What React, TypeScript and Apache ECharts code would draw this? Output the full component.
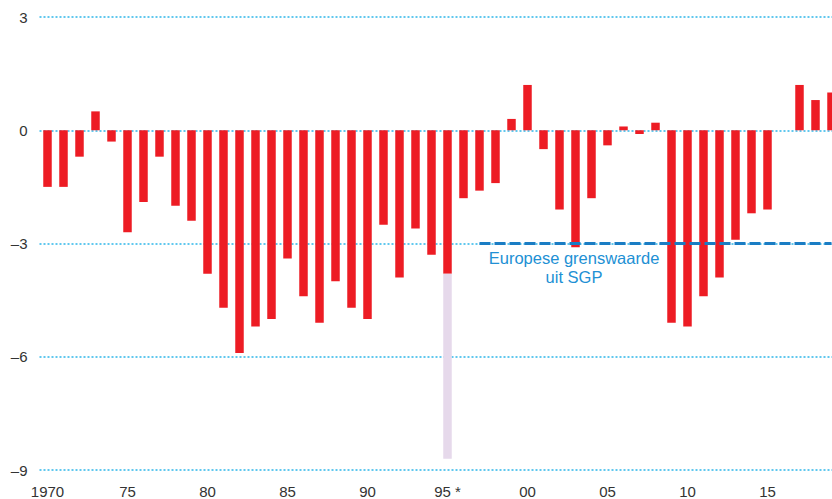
import React, { useEffect, useRef } from "react";
import * as echarts from "echarts";

const years = [
  "1970", "1971", "1972", "1973", "1974", "1975", "1976", "1977", "1978", "1979",
  "1980", "1981", "1982", "1983", "1984", "1985", "1986", "1987", "1988", "1989",
  "1990", "1991", "1992", "1993", "1994", "1995", "1996", "1997", "1998", "1999",
  "2000", "2001", "2002", "2003", "2004", "2005", "2006", "2007", "2008", "2009",
  "2010", "2011", "2012", "2013", "2014", "2015", "2016", "2017", "2018", "2019",
];

// Begrotingssaldo (% bbp)
const saldo = [
  -1.5, -1.5, -0.7, 0.5, -0.3, -2.7, -1.9, -0.7, -2.0, -2.4,
  -3.8, -4.7, -5.9, -5.2, -5.0, -3.4, -4.4, -5.1, -4.0, -4.7,
  -5.0, -2.5, -3.9, -2.6, -3.3, -3.8, -1.8, -1.6, -1.4, 0.3,
  1.2, -0.5, -2.1, -3.1, -1.8, -0.4, 0.1, -0.1, 0.2, -5.1,
  -5.2, -4.4, -3.9, -2.9, -2.2, -2.1, 0, 1.2, 0.8, 1.0,
];

// Extra (incidenteel) tekort in 1995
const extra: (number | null)[] = years.map((y) => (y === "1995" ? -4.9 : null));

const tickLabels: Record<string, string> = {
  "1970": "1970", "1975": "75", "1980": "80", "1985": "85", "1990": "90",
  "1995": "95 *", "2000": "00", "2005": "05", "2010": "10", "2015": "15",
};

const yLabels: Record<string, string> = {
  "3": "3", "0": "0", "-3": "\u20133", "-6": "\u20136", "-9": "\u20139",
};

const limitStart = "1997";
const limitEnd = "2019";
const limitValue = -3;

export default function App() {
  const ref = useRef<HTMLDivElement>(null);
  useEffect(() => {
    if (!ref.current) return;
    const chart = echarts.init(ref.current, undefined, { renderer: "svg" });
    const font = "'Liberation Sans', Arial, sans-serif";
    chart.setOption({
      animation: false,
      textStyle: { fontFamily: font },
      grid: { left: 39.5, right: 10.5, top: 17, height: 453 },
      xAxis: {
        type: "category",
        data: years,
        axisLine: { show: false },
        axisTick: { show: false },
        axisLabel: {
          interval: 4,
          margin: 14,
          fontSize: 15,
          color: "#333",
          fontFamily: font,
          formatter: (v: string) => tickLabels[v] ?? "",
        },
        splitLine: { show: false },
      },
      yAxis: {
        type: "value",
        min: -9,
        max: 3,
        interval: 3,
        axisLine: { show: false },
        axisTick: { show: false },
        axisLabel: {
          margin: 12,
          fontSize: 15,
          color: "#333",
          fontFamily: font,
          formatter: (v: number) => yLabels[String(v)] ?? String(v),
        },
        splitLine: {
          show: true,
          lineStyle: { color: "#2cb6e9", width: 1.5, type: [2, 2] },
        },
      },
      series: [
        {
          type: "bar",
          stack: "s",
          data: saldo,
          barWidth: 8.5,
          itemStyle: { color: "#ed1c24" },
          markLine: {
            silent: true,
            symbol: "none",
            label: { show: false },
            lineStyle: { color: "#1a7dc4", width: 3, type: [11, 4] },
            data: [[{ coord: [limitStart, limitValue] }, { coord: [limitEnd, limitValue] }]],
          },
        },
        {
          type: "bar",
          stack: "s",
          data: extra,
          barWidth: 8.5,
          itemStyle: { color: "#e6d9eb" },
        },
      ],
      graphic: [
        {
          type: "text",
          x: 574,
          y: 248,
          style: {
            text: "Europese grenswaarde\nuit SGP",
            fill: "#2190d4",
            font: `16.5px ${font}`,
            textAlign: "center",
            textVerticalAlign: "top",
            lineHeight: 19,
          },
        },
      ],
    });
    return () => chart.dispose();
  }, []);
  return (
    <div
      style={{
        position: "fixed",
        left: 0,
        top: 0,
        width: 832,
        height: 499,
        overflow: "hidden",
        background: "#fff",
      }}
    >
      <div ref={ref} style={{ width: 850, height: 499 }} />
    </div>
  );
}
